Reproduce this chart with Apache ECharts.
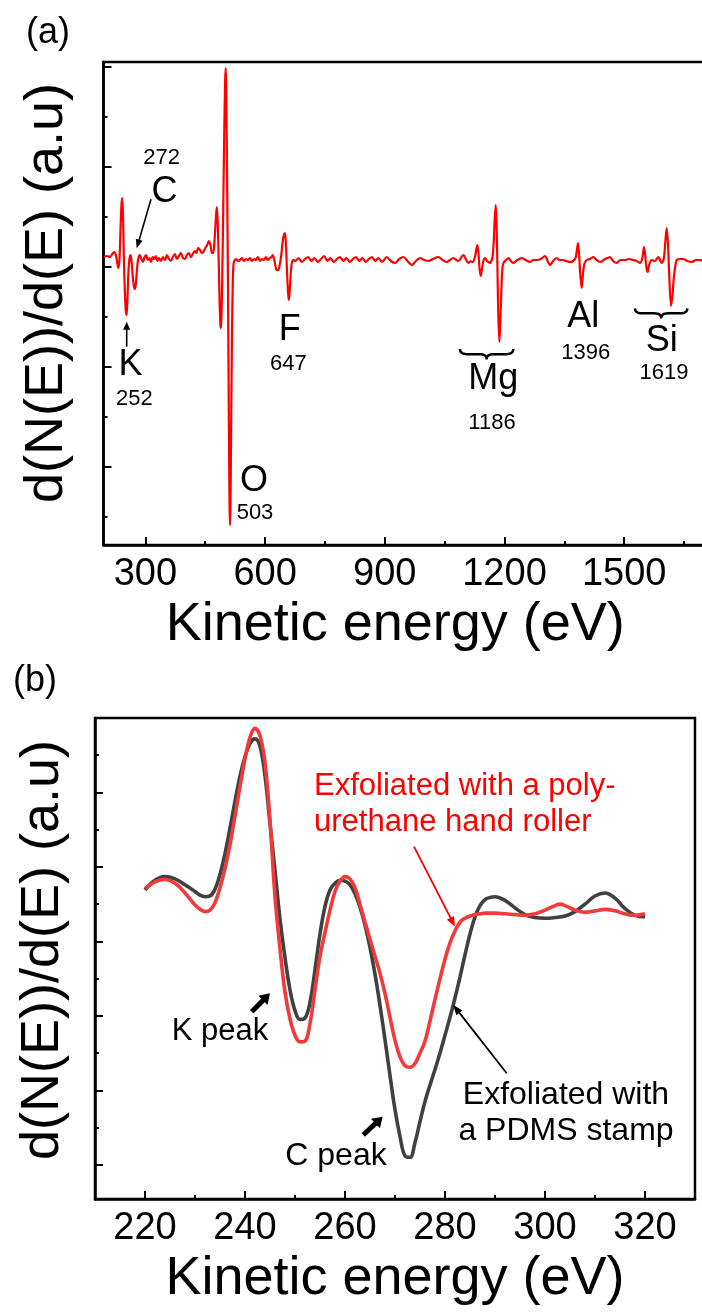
<!DOCTYPE html>
<html><head><meta charset="utf-8">
<script src="https://cdn.jsdelivr.net/npm/echarts@6/dist/echarts.min.js"></script>
<style>html,body{margin:0;padding:0;background:#fff}#c{width:702px;height:1313px}</style>
</head><body><div id="c"></div>
<script>
const FONT = "'Liberation Sans', Arial, Helvetica, sans-serif";

// ---------- Panel (a): survey AES spectrum ----------
const energyA = [196,204,211,217,222,226,229,232,235,238,240,242,244,246,248.5,251,253,255,257.5,260,263,265.5,268,271,274,276.5,279,282,286,290,294,298,302,306,310,314,318,322,326,330,334,339,344,349,354,359,364,369,374,379,384,389,394,399,404,409,414,419,424,428,432,437,441,445,450,455,459,463,467,470,473,476,478.7,481,483.5,486,488,489.5,491,493,495.5,498,500,501.3,502.5,504.5,507,509,510.8,512,513.2,515,517,519,521,524,528,532,537,542,547,552,557,562,567,572,577,582,587,592,597,602,607,612,616,619,622,625,629,633,636,640,644,647,649.9,652.5,655.5,658,659.9,662,665,668,671,676,684,692,700,708,716,724,732,740,748,756,764,772,780,788,796,804,812,820,828,836,844,852,860,868,876,884,893,904.7,915,925.6,936,946.5,957,967.4,978,988.2,999,1009,1021,1034,1045,1055,1063,1071.8,1084,1096.9,1103,1109.4,1115,1120,1126,1129.5,1131.9,1134.5,1137.5,1140.3,1143.5,1147,1151.2,1156,1160,1163.7,1167,1170,1173,1175.5,1177.9,1180,1182,1184.3,1187.1,1189.5,1192,1195,1198.8,1204,1209.6,1216,1222.2,1232,1243,1253,1263.9,1272,1280.6,1291,1301.5,1308,1314,1322,1330.8,1338,1345.8,1355,1364.2,1372,1378,1381.5,1384.2,1387,1390,1393.4,1396.5,1400,1406,1414,1422.7,1431,1439.4,1452,1464.4,1472,1481.1,1491,1502,1512,1522.9,1531,1539.6,1545,1547.5,1549.6,1552.5,1555.5,1558.8,1562.5,1568.9,1577,1585.6,1590,1593.9,1599,1602.5,1606.4,1609.5,1612.5,1617.3,1621,1625,1631.5,1640,1648.2,1658,1669.1,1680,1690,1700,1710];
const signalA = [0.10,0.11,0.10,0.13,0.15,0.12,0.05,-0.01,0.08,0.42,0.62,0.69,0.50,0.10,-0.25,-0.44,-0.48,-0.32,-0.05,0.08,0.12,0.05,-0.08,-0.19,-0.22,-0.15,-0.02,0.08,0.12,0.08,0.05,0.10,0.12,0.07,0.09,0.05,0.10,0.08,0.11,0.06,0.09,0.06,0.10,0.07,0.12,0.08,0.06,0.10,0.13,0.08,0.11,0.14,0.09,0.08,0.12,0.14,0.10,0.13,0.16,0.14,0.19,0.17,0.14,0.15,0.19,0.22,0.26,0.22,0.14,0.14,0.25,0.45,0.60,0.48,0.10,-0.35,-0.58,-0.61,-0.45,0.0,0.70,1.45,1.88,1.99,1.80,1.00,-0.20,-1.45,-2.35,-2.58,-2.40,-1.55,-0.70,-0.15,0.03,0.07,0.08,0.06,0.07,0.09,0.06,0.08,0.07,0.09,0.06,0.08,0.07,0.10,0.06,0.08,0.07,0.10,0.07,0.09,0.10,0.12,0.09,0.03,-0.03,-0.03,0.01,0.10,0.25,0.32,0.34,0.20,-0.10,-0.28,-0.33,-0.22,-0.02,0.06,0.07,0.06,0.09,0.05,0.08,0.10,0.06,0.09,0.05,0.08,0.11,0.06,0.09,0.05,0.08,0.10,0.06,0.09,0.05,0.08,0.10,0.06,0.09,0.05,0.08,0.10,0.06,0.09,0.05,0.10,0.06,0.04,0.08,0.10,0.06,0.02,0.06,0.09,0.07,0.06,0.08,0.10,0.07,0.05,0.07,0.09,0.06,0.12,0.08,0.04,0.06,0.05,0.10,0.18,0.22,0.15,-0.02,-0.09,-0.02,0.06,0.09,0.06,0.05,0.04,0.06,0.10,0.25,0.48,0.62,0.45,0.05,-0.45,-0.75,-0.55,-0.25,0.00,0.05,0.07,0.09,0.06,0.04,0.07,0.09,0.07,0.05,0.07,0.07,0.08,0.11,0.06,0.02,0.06,0.09,0.07,0.07,0.06,0.05,0.06,0.09,0.17,0.24,0.12,-0.08,-0.21,-0.08,0.03,0.07,0.08,0.10,0.07,0.05,0.08,0.10,0.06,0.04,0.07,0.07,0.08,0.07,0.06,0.04,0.08,0.15,0.20,0.12,0.0,-0.05,0.02,0.07,0.06,0.10,0.07,0.04,0.08,0.22,0.39,0.25,-0.05,-0.39,-0.28,-0.08,0.07,0.08,0.08,0.06,0.05,0.07,0.07,0.06,0.07];
const xTicksMajorA = [300, 600, 900, 1200, 1500];
const xTicksMinorA = [450, 750, 1050, 1350, 1650];
const yTicksMajorA = [-2, -1, 0, 1, 2];
const yTicksMinorA = [-2.5, -1.5, -0.5, 0.5, 1.5];

// ---------- Panel (b): K / C region, two exfoliation methods ----------
const energyPDMS = [220,222,224,226,228,230,231,232,233,234,235,236,237,238,239,240,241,242,243,244,245,246,247,248,249,250,251,252,253,254,255,256,257,258,259,260,261,262,263,264,265,266,267,268,269,270,271,272,273,274,275,276,277,278,279,280,281,282,283,284,285,286,287,288,289,290,292,294,296,298,300,302,304,306,308,310,312,314,316,318,320];
const signalPDMS = [3.69,3.82,3.87,3.84,3.76,3.67,3.62,3.60,3.61,3.70,3.90,4.18,4.52,4.88,5.22,5.48,5.66,5.72,5.62,5.22,4.58,3.95,3.30,2.78,2.35,2.07,1.95,1.97,2.18,2.62,3.10,3.47,3.69,3.78,3.82,3.81,3.76,3.64,3.46,3.22,2.92,2.56,2.14,1.68,1.20,0.74,0.38,0.12,0.10,0.30,0.58,0.85,1.07,1.28,1.50,1.74,1.98,2.24,2.52,2.82,3.10,3.33,3.48,3.56,3.59,3.60,3.55,3.45,3.36,3.32,3.31,3.32,3.34,3.40,3.50,3.61,3.65,3.58,3.44,3.35,3.33];
const energyRoller = [220,222,224,226,228,230,231,232,233,234,235,236,237,238,239,240,241,242,243,244,245,246,247,248,249,250,251,252,253,254,255,256,257,258,259,260,261,262,263,264,265,266,267,268,269,270,271,272,273,274,275,276,277,278,279,280,281,282,283,284,285,286,287,288,289,290,292,294,296,298,300,302,303,304,306,308,310,312,314,316,318,320];
const signalRoller = [3.71,3.80,3.83,3.78,3.65,3.49,3.43,3.40,3.42,3.52,3.72,3.98,4.30,4.68,5.08,5.45,5.74,5.86,5.76,5.40,4.62,3.60,2.90,2.32,1.96,1.74,1.65,1.66,1.90,2.35,2.80,3.12,3.42,3.67,3.81,3.87,3.84,3.72,3.50,3.26,3.03,2.80,2.57,2.30,1.98,1.67,1.45,1.33,1.31,1.36,1.50,1.66,1.93,2.22,2.50,2.76,2.98,3.14,3.26,3.31,3.34,3.36,3.37,3.38,3.38,3.38,3.37,3.36,3.35,3.37,3.42,3.48,3.50,3.48,3.42,3.39,3.41,3.43,3.41,3.37,3.35,3.37];
const xTicksMajorB = [220, 240, 260, 280, 300, 320];
const xTicksMinorB = [230, 250, 270, 290, 310];
const yTicksMajorB = [0, 1, 2, 3, 4, 5];
const yTicksMinorB = [0.5, 1.5, 2.5, 3.5, 4.5, 5.5];

const pairs = (xs, ys) => xs.map((x, i) => [x, ys[i]]);

const tickStyle = {color: '#000', width: 2};
function xAxisMain(grid, min, max, major, name, padR) {
  return {gridIndex: grid, type: 'value', min, max, position: 'bottom',
    axisLine: {show: true, onZero: false, lineStyle: {color: '#000', width: 2.5}},
    axisTick: {show: true, inside: true, length: 8, lineStyle: tickStyle, customValues: major},
    axisLabel: {show: true, customValues: major, margin: 11, fontSize: 38, color: '#000', fontFamily: FONT,
      formatter: v => String(v)},
    splitLine: {show: false},
    name, nameLocation: 'middle', nameGap: 53, nameMoveOverlap: false,
    nameTextStyle: {fontSize: 54, color: '#000', fontFamily: FONT, padding: [0, padR, 0, 0]}};
}
function xAxisMinor(grid, min, max, minor) {
  return {gridIndex: grid, type: 'value', min, max, position: 'bottom',
    axisLine: {show: false, onZero: false},
    axisTick: {show: true, inside: true, length: 4, lineStyle: tickStyle, customValues: minor},
    axisLabel: {show: false}, splitLine: {show: false}};
}
function yAxisMain(grid, min, max, major, gap, padL) {
  return {gridIndex: grid, type: 'value', min, max, position: 'left',
    axisLine: {show: true, onZero: false, lineStyle: {color: '#000', width: 2.5}},
    axisTick: {show: true, inside: true, length: 8, lineStyle: tickStyle, customValues: major},
    axisLabel: {show: false}, splitLine: {show: false},
    name: 'd(N(E))/d(E) (a.u)', nameLocation: 'middle', nameGap: gap, nameMoveOverlap: false,
    nameTextStyle: {fontSize: 54, color: '#000', fontFamily: FONT, padding: [0, 0, 0, padL]}};
}
function yAxisMinor(grid, min, max, minor) {
  return {gridIndex: grid, type: 'value', min, max, position: 'left',
    axisLine: {show: false, onZero: false},
    axisTick: {show: true, inside: true, length: 4, lineStyle: tickStyle, customValues: minor},
    axisLabel: {show: false}, splitLine: {show: false}};
}

// ---------- annotation helpers ----------
function txt(t, x, y, size, color, align) {
  return {type: 'text', x, y, z: 100,
    style: {text: t, fill: color || '#000', fontSize: size, fontFamily: FONT,
      align: align || 'center', verticalAlign: 'middle'}};
}
function arrow(x1, y1, x2, y2, color, lw, hl, hw) {
  const dx = x2 - x1, dy = y2 - y1, L = Math.hypot(dx, dy), ux = dx / L, uy = dy / L;
  const bx = x2 - ux * hl, by = y2 - uy * hl, px = -uy, py = ux;
  return [
    {type: 'line', z: 100, shape: {x1, y1, x2: bx + ux, y2: by + uy}, style: {stroke: color, lineWidth: lw}},
    {type: 'polygon', z: 100, shape: {points: [[x2, y2], [bx + px * hw / 2, by + py * hw / 2], [bx - px * hw / 2, by - py * hw / 2]]}, style: {fill: color}}
  ];
}
function brace(x0, x1, yTop, yBot) {
  const xm = (x0 + x1) / 2, ym = (yTop + yBot) / 2, r = 7, pts = [];
  const quad = (p0, p1, p2) => { for (let i = 0; i <= 8; i++) { const t = i / 8, a = (1 - t) * (1 - t), b = 2 * (1 - t) * t, c = t * t;
    pts.push([a * p0[0] + b * p1[0] + c * p2[0], a * p0[1] + b * p1[1] + c * p2[1]]); } };
  quad([x0, yTop], [x0, ym], [x0 + r, ym]);
  quad([xm - r, ym], [xm, ym], [xm, yBot]);
  quad([xm, yBot], [xm, ym], [xm + r, ym]);
  quad([x1 - r, ym], [x1, ym], [x1, yTop]);
  return {type: 'polyline', z: 100, shape: {points: pts}, style: {stroke: '#000', lineWidth: 2.5, fill: null}};
}

const graphics = [
  txt('(a)', 48, 33, 36), txt('(b)', 35, 681.5, 36),
  // panel (a) element labels
  txt('272', 161.7, 157.5, 22), txt('C', 164.5, 192.5, 36),
  txt('K', 130.5, 365, 36), txt('252', 134.3, 398.8, 22),
  txt('F', 289.7, 330, 36), txt('647', 288.3, 364.2, 22),
  txt('O', 254, 481, 36), txt('503', 255, 513, 22),
  txt('Mg', 493.3, 379.5, 36), txt('1186', 492, 422.5, 22),
  txt('Al', 583.3, 316.7, 36), txt('1396', 585.8, 352.5, 22),
  txt('Si', 661.7, 340.8, 36), txt('1619', 664, 372.5, 22),
  ...arrow(151, 199.3, 136.7, 248.3, '#000', 1.6, 9, 7),
  ...arrow(126.7, 346.7, 126.7, 321.7, '#000', 1.6, 8, 7),
  brace(460, 513.3, 349, 359.3),
  brace(635, 687.3, 308.3, 318.3),
  // panel (b)
  txt('Exfoliated with a poly-', 314, 786, 31, '#ff0000', 'left'),
  txt('urethane hand roller', 314, 822, 31, '#ff0000', 'left'),
  ...arrow(414, 846.7, 455, 926.7, '#ff0000', 1.8, 10, 8),
  txt('Exfoliated with', 566, 1095, 32), txt('a PDMS stamp', 566, 1131.5, 32),
  ...arrow(506.7, 1073.3, 453.3, 1005, '#000', 1.8, 10, 8),
  txt('K peak', 220, 1031, 31),
  ...arrow(251.7, 1011.7, 270, 993.3, '#000', 5, 10, 13),
  txt('C peak', 336, 1156, 32),
  ...arrow(363.2, 1135, 382.7, 1116.7, '#000', 5, 10, 13)
];

const chart = echarts.init(document.getElementById('c'), null, {renderer: 'canvas'});
chart.setOption({
  animation: false,
  backgroundColor: '#fff',
  grid: [
    {left: 103.5, top: 62, width: 604.5, height: 483, show: true, borderColor: '#000', borderWidth: 2.5, backgroundColor: 'transparent', containLabel: false, outerBoundsMode: 'none'},
    {left: 95, top: 718, width: 600, height: 481, show: true, borderColor: '#000', borderWidth: 2.5, backgroundColor: 'transparent', containLabel: false, outerBoundsMode: 'none'}
  ],
  xAxis: [
    xAxisMain(0, 195, 1710, xTicksMajorA, 'Kinetic energy (eV)', 21),
    xAxisMinor(0, 195, 1710, xTicksMinorA),
    xAxisMain(1, 210, 330, xTicksMajorB, 'Kinetic energy (eV)', 0),
    xAxisMinor(1, 210, 330, xTicksMinorB)
  ],
  yAxis: [
    yAxisMain(0, -2.78, 2.05, yTicksMajorA, 29, 21),
    yAxisMinor(0, -2.78, 2.05, yTicksMinorA),
    yAxisMain(1, -0.46, 6, yTicksMajorB, 25, 17),
    yAxisMinor(1, -0.46, 6, yTicksMinorB)
  ],
  series: [
    {name: 'Survey', type: 'line', xAxisIndex: 0, yAxisIndex: 0, data: pairs(energyA, signalA),
      symbol: 'none', smooth: 0.3, lineStyle: {color: '#ff0000', width: 2.2}, z: 3},
    {name: 'Exfoliated with a PDMS stamp', type: 'line', xAxisIndex: 2, yAxisIndex: 2, data: pairs(energyPDMS, signalPDMS),
      symbol: 'none', smooth: 0.4, lineStyle: {color: '#404040', width: 3.6}, z: 3},
    {name: 'Exfoliated with a polyurethane hand roller', type: 'line', xAxisIndex: 2, yAxisIndex: 2, data: pairs(energyRoller, signalRoller),
      symbol: 'none', smooth: 0.4, lineStyle: {color: '#f23a3a', width: 3.6}, z: 4}
  ],
  graphic: graphics
});
</script>
</body></html>
